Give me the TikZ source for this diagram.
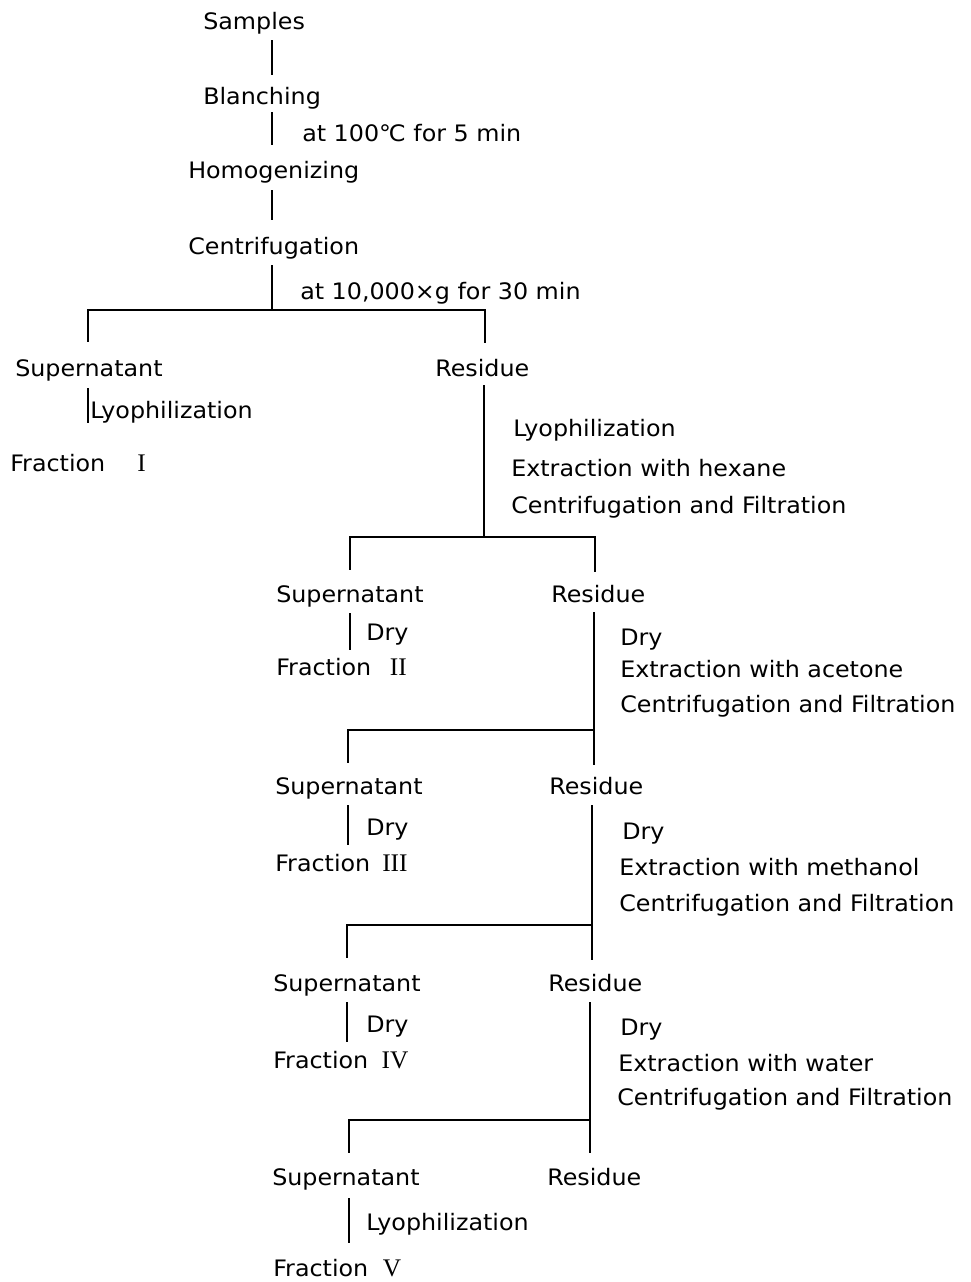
\documentclass[tikz,border=0pt]{standalone}
\usepackage{fontspec}
\setmainfont[FakeStretch=1.05]{DejaVu Sans}
\newfontfamily\romfont{Liberation Serif}
\newcommand\numeral[2]{\hspace{#1}{\romfont\fontsize{19pt}{20pt}\selectfont #2}}
\begin{document}
\begin{tikzpicture}[x=0.75pt,y=-0.75pt,
  lbl/.style={inner sep=0pt,anchor=west,font=\fontsize{17pt}{20pt}\selectfont,
    text height=12.4pt,text depth=0pt},
  conn/.style={line width=0.8pt,draw=black}]
\useasboundingbox (0,0) rectangle (971,1282);

% column positions of the vertical lines
\coordinate (c0) at (272,0);
\coordinate (cA) at (88,0);  \coordinate (cB) at (485,0);
\coordinate (cC) at (350,0); \coordinate (cD) at (595,0);
\coordinate (cE) at (348,0);
\coordinate (cG) at (347,0);
\coordinate (cI) at (349,0);

% junctions of the splits
\coordinate (j1) at (272,310);
\coordinate (j2) at (484,537);
\coordinate (j3) at (594,730);
\coordinate (j4) at (592,925);
\coordinate (j5) at (590,1120);

% main stem
\node[lbl] (samples) at (203,21.5) {Samples};
\node[lbl] (blanch)  at (203,96)   {Blanching};
\node[lbl] (blnote)  at (302,133.5) {at 100℃ for 5 min};
\node[lbl] (hom)     at (188,170.7) {Homogenizing};
\node[lbl] (cent)    at (188,246)  {Centrifugation};
\node[lbl] (cenote)  at (300,291)  {at 10,000×g for 30 min};

% first split
\node[lbl] (sup1)  at (15,368)  {Supernatant};
\node[lbl] (res1)  at (435,368) {Residue};
\node[lbl] (lyo1)  at (90,410)  {Lyophilization};
\node[lbl] (frac1) at (10,463)  {Fraction\numeral{24pt}{I}};
\node[lbl] (r1a) at (513,428) {Lyophilization};
\node[lbl] (r1b) at (511,468) {Extraction with hexane};
\node[lbl] (r1c) at (511,505) {Centrifugation and Filtration};

% second split
\node[lbl] (sup2)  at (276,594) {Supernatant};
\node[lbl] (res2)  at (551,594) {Residue};
\node[lbl] (dry2)  at (366,632) {Dry};
\node[lbl] (frac2) at (276,667.5) {Fraction\numeral{14pt}{II}};
\node[lbl] (r2a) at (620,637.5) {Dry};
\node[lbl] (r2b) at (620,669) {Extraction with acetone};
\node[lbl] (r2c) at (620,704) {Centrifugation and Filtration};

% third split
\node[lbl] (sup3)  at (275,786) {Supernatant};
\node[lbl] (res3)  at (549,786) {Residue};
\node[lbl] (dry3)  at (366,827) {Dry};
\node[lbl] (frac3) at (275,863) {Fraction\numeral{9pt}{III}};
\node[lbl] (r3a) at (622,831) {Dry};
\node[lbl] (r3b) at (619,867) {Extraction with methanol};
\node[lbl] (r3c) at (619,903) {Centrifugation and Filtration};

% fourth split
\node[lbl] (sup4)  at (273,983) {Supernatant};
\node[lbl] (res4)  at (548,983) {Residue};
\node[lbl] (dry4)  at (366,1024) {Dry};
\node[lbl] (frac4) at (273,1060) {Fraction\numeral{10pt}{IV}};
\node[lbl] (r4a) at (620,1027) {Dry};
\node[lbl] (r4b) at (618,1063) {Extraction with water};
\node[lbl] (r4c) at (617,1097) {Centrifugation and Filtration};

% fifth split
\node[lbl] (sup5)  at (272,1177.5) {Supernatant};
\node[lbl] (res5)  at (547,1177.5) {Residue};
\node[lbl] (lyo5)  at (366,1222) {Lyophilization};
\node[lbl] (frac5) at (273,1268) {Fraction\numeral{11pt}{V}};

% stem connectors
\draw[conn,shorten <=7.7pt,shorten >=9.5pt]  (samples.south -| c0) -- (blanch.north -| c0);
\draw[conn,shorten <=5.8pt,shorten >=13.1pt] (blanch.south -| c0) -- (hom.north -| c0);
\draw[conn,shorten <=8.3pt,shorten >=13.3pt] (hom.south -| c0) -- (cent.north -| c0);
\draw[conn,shorten <=8pt] (cent.south -| c0) -- (j1);

% split 1
\draw[conn,shorten <=13.3pt,shorten >=12.5pt] (sup1.north -| cA) |- (j1) -| (res1.north -| cB);
\draw[conn,shorten <=8.8pt,shorten >=23.8pt] (sup1.south -| cA) -- (frac1.north -| cA);
\draw[conn,shorten <=6.5pt] (res1.south -| j2) -- (j2);

% split 2
\draw[conn,shorten <=11.8pt,shorten >=10.3pt] (sup2.north -| cC) |- (j2) -| (res2.north -| cD);
\draw[conn,shorten <=8pt,shorten >=6.9pt] (sup2.south -| cC) -- (frac2.north -| cC);
\draw[conn,shorten <=7.3pt] (res2.south -| j3) -- (j3);

% split 3
\draw[conn,shorten <=11pt,shorten >=9.5pt] (sup3.north -| cE) |- (j3) -- (res3.north -| j3);
\draw[conn,shorten <=8pt,shorten >=7.3pt] (sup3.south -| cE) -- (frac3.north -| cE);
\draw[conn,shorten <=8pt] (res3.south -| j4) -- (j4);

% split 4
\draw[conn,shorten <=12.5pt,shorten >=11pt] (sup4.north -| cG) |- (j4) -- (res4.north -| j4);
\draw[conn,shorten <=8pt,shorten >=7.3pt] (sup4.south -| cG) -- (frac4.north -| cG);
\draw[conn,shorten <=8pt] (res4.south -| j5) -- (j5);

% split 5
\draw[conn,shorten <=12.2pt,shorten >=12.2pt] (sup5.north -| cI) |- (j5) -- (res5.north -| j5);
\draw[conn,shorten <=9.2pt,shorten >=12.5pt] (sup5.south -| cI) -- (frac5.north -| cI);
\end{tikzpicture}
\end{document}
